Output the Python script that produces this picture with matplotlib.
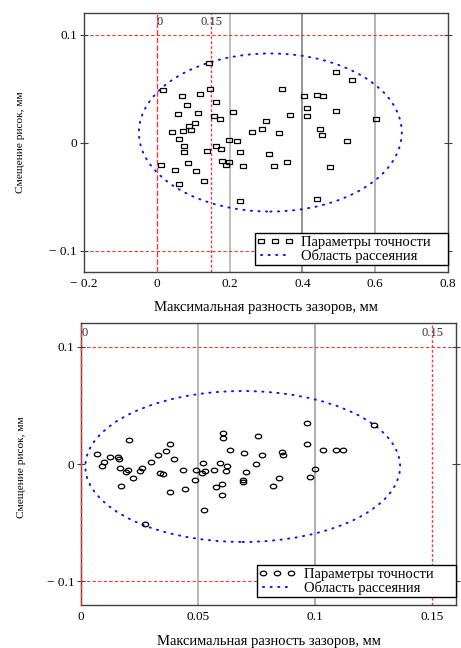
import matplotlib
matplotlib.use("Agg")
import matplotlib.pyplot as plt
from matplotlib.lines import Line2D
from matplotlib.markers import MarkerStyle
from matplotlib.patches import Ellipse
from matplotlib.transforms import Affine2D

plt.rcParams["font.family"] = ["Liberation Serif", "DejaVu Serif"]

XLABEL = "Максимальная разность зазоров, мм"
YLABEL = "Смещение рисок, мм"
LBL_POINTS = "Параметры точности"
LBL_REGION = "Область рассеяния"

# --- upper chart: squares ---
top_x = [0.143, 0.018, 0.146, 0.069, 0.120, 0.084, 0.163, 0.058, 0.112, 0.209,
         0.156, 0.174, 0.105, 0.088, 0.095, 0.043, 0.072, 0.061, 0.199, 0.220,
         0.074, 0.163, 0.177, 0.138, 0.074, 0.228, 0.179, 0.199, 0.191, 0.087,
         0.013, 0.237, 0.051, 0.107, 0.131, 0.061, 0.228, 0.343, 0.299, 0.262,
         0.289, 0.337, 0.308, 0.322, 0.492, 0.537, 0.405, 0.441, 0.456, 0.413,
         0.492, 0.366, 0.413, 0.603, 0.448, 0.454, 0.523, 0.358, 0.477, 0.441]
top_y = [0.0734, 0.0486, 0.0496, 0.0434, 0.0449, 0.0347, 0.0372, 0.0260, 0.0276, 0.0282,
         0.0245, 0.0220, 0.0180, 0.0149, 0.0118, 0.0102, 0.0109, 0.0034, 0.0025, 0.0016,
         -0.0028, -0.0028, -0.0062, -0.0074, -0.0084, -0.0087, -0.0167, -0.0183, -0.0204, -0.0189,
         -0.0208, -0.0217, -0.0254, -0.0260, -0.0356, -0.0387, -0.0542, 0.0499, 0.0204, 0.0096,
         0.0124, 0.0090, -0.0109, -0.0217, 0.0653, 0.0583, 0.0428, 0.0443, 0.0434, 0.0322,
         0.0294, 0.0251, 0.0245, 0.0220, 0.0127, 0.0071, 0.0016, -0.0180, -0.0230, -0.0518]
top_xticks = [-0.2, 0, 0.2, 0.4, 0.6, 0.8]
top_xticklabels = ["− 0.2", "0", "0.2", "0.4", "0.6", "0.8"]
top_gray = [0.2, 0.4, 0.6]
top_red_x = [0, 0.15]
top_marks = ["0", "0.15"]
top_ell_center = (0.312, 0.0093)
top_ell_size = (0.722, 0.1464)

# --- lower chart: circles ---
bot_x = [0.0205, 0.0378, 0.0364, 0.0328, 0.0066, 0.0123, 0.0158, 0.0161, 0.0398, 0.0098,
         0.0091, 0.0299, 0.0167, 0.0198, 0.0190, 0.0258, 0.0252, 0.0338, 0.0349, 0.0435,
         0.0221, 0.0172, 0.0381, 0.0445, 0.0486, 0.0490, 0.0519, 0.0515, 0.0529, 0.0566,
         0.0595, 0.0623, 0.0620, 0.0606, 0.0606, 0.0634, 0.0577, 0.0603, 0.0602, 0.0525,
         0.0271, 0.0694, 0.0690, 0.0965, 0.1250, 0.0754, 0.0964, 0.0771, 0.0857, 0.0861,
         0.1032, 0.1089, 0.1119, 0.0746, 0.0706, 0.0690, 0.0997, 0.0977, 0.0844, 0.0818]
bot_y = [0.0205, 0.0168, 0.0108, 0.0079, 0.0083, 0.0060, 0.0057, 0.0043, 0.0045, 0.0017,
         -0.0017, 0.0015, -0.0037, -0.0051, -0.0068, -0.0037, -0.0057, -0.0074, -0.0088, -0.0051,
         -0.0122, -0.0185, -0.0236, -0.0216, -0.0139, -0.0051, 0.0006, -0.0077, -0.0057, -0.0051,
         0.0006, -0.0017, -0.0057, 0.0262, 0.0222, 0.0122, -0.0199, -0.0171, -0.0265, -0.0393,
         -0.0512, 0.0096, -0.0137, 0.0353, 0.0330, 0.0239, 0.0168, 0.0077, 0.0100, 0.0077,
         0.0122, 0.0117, 0.0122, 0.0000, -0.0068, -0.0151, -0.0043, -0.0108, -0.0114, -0.0190]
bot_xticks = [0, 0.05, 0.1, 0.15]
bot_xticklabels = ["0", "0.05", "0.1", "0.15"]
bot_gray = [0.05, 0.1]
bot_red_x = [0, 0.15]
bot_marks = ["0", "0.15"]
bot_ell_center = (0.069, -0.002)
bot_ell_size = (0.1344, 0.1286)

yticks = [-0.1, 0, 0.1]
yticklabels = ["− 0.1", "0", "0.1"]
red_y = [-0.1, 0.1]

RED = "#f03c3c"
BLUE = "#1010ff"
FS = 9.5      # tick labels
FS_LBL = 10.5  # x label, legend
FS_Y = 8.2     # y label (squashed in the original)


def panel(ax, xs, ys, marker, xlim, xticks, xticklabels, gray, gray_cols,
          red_x, marks, ell_c, ell_s):
    ax.set_xlim(*xlim)
    ax.set_ylim(-0.12, 0.12)
    for g, c in zip(gray, gray_cols):
        ax.axvline(g, color=c, lw=1.2, zorder=1)
    for yv in red_y:
        ax.axhline(yv, color=RED, lw=0.8, ls=(0, (3, 2)), zorder=1)
    ax.axvline(red_x[0], color=RED, lw=1.0, ls=(0, (4, 1.5)), zorder=3, clip_on=False)
    ax.axvline(red_x[1], color=RED, lw=1.0, ls=(0, (2, 1.5)), zorder=1)
    ax.text(red_x[0], 0.117, marks[0], ha="left", va="top", fontsize=FS - 0.5, color="#333333")
    ax.text(red_x[1], 0.117, marks[1], ha="center", va="top", fontsize=FS - 0.5, color="#333333")

    ax.add_patch(Ellipse(ell_c, ell_s[0], ell_s[1], fill=False, edgecolor=BLUE,
                         lw=1.4, ls=(0, (0.6, 3.3)), capstyle="round", zorder=2))
    ax.plot(xs, ys, ls="none", marker=marker, ms=3.3, mfc="none", mec="black",
            mew=0.9, zorder=3)

    ax.set_xticks(xticks)
    ax.set_xticklabels(xticklabels)
    ax.set_yticks(yticks)
    ax.set_yticklabels(yticklabels)
    ax.tick_params(axis="x", length=0, labelsize=FS, pad=4)
    ax.tick_params(axis="y", left=True, right=True, direction="inout", length=6,
                   labelsize=FS, pad=2, color="#404040")
    for s in ax.spines.values():
        s.set_color("#404040")
        s.set_linewidth(1.0)

    ax.set_xlabel(XLABEL, fontsize=FS_LBL)
    ax.set_ylabel(YLABEL, fontsize=FS_Y)

    handles = [Line2D([], [], ls="none", marker=marker, ms=3.3, mfc="none", mec="black", mew=0.9),
               Line2D([], [], color=BLUE, lw=1.4, ls=(0, (0.6, 3.3)), dash_capstyle="round")]
    leg = ax.legend(handles, [LBL_POINTS, LBL_REGION], loc="lower left",
                    bbox_to_anchor=(0.469, 0.027, 0.531, 0.1), mode="expand",
                    borderaxespad=0, fontsize=FS_LBL,
                    numpoints=3, handlelength=2.5, handletextpad=0.55, borderpad=0.15,
                    labelspacing=0.02, fancybox=False, framealpha=1)
    leg.get_frame().set_edgecolor("black")
    leg.get_frame().set_linewidth(1.0)


fig = plt.figure(figsize=(4.61, 6.48), dpi=100)
ax1 = fig.add_axes([0.182, 0.580, 0.790, 0.400])
ax2 = fig.add_axes([0.176, 0.0664, 0.8128, 0.4347])

sq = MarkerStyle("s", fillstyle="none", transform=Affine2D().scale(1.3, 1.0))
ci = MarkerStyle("o", fillstyle="none", transform=Affine2D().scale(1.4, 1.0))

panel(ax1, top_x, top_y, sq, (-0.2, 0.8), top_xticks, top_xticklabels, top_gray,
      ["#b4b4b4", "#808080", "#a8a8a8"], top_red_x, top_marks, top_ell_center, top_ell_size)
panel(ax2, bot_x, bot_y, ci, (0, 0.16), bot_xticks, bot_xticklabels, bot_gray,
      ["#aaaaaa", "#a0a0a0"], bot_red_x, bot_marks, bot_ell_center, bot_ell_size)

ax1.xaxis.set_label_coords(0.5, -0.11)
ax1.yaxis.set_label_coords(-0.162, 0.5)
ax2.xaxis.set_label_coords(0.5, -0.105)
ax2.yaxis.set_label_coords(-0.147, 0.49)

fig.savefig("out.png", dpi=100)
